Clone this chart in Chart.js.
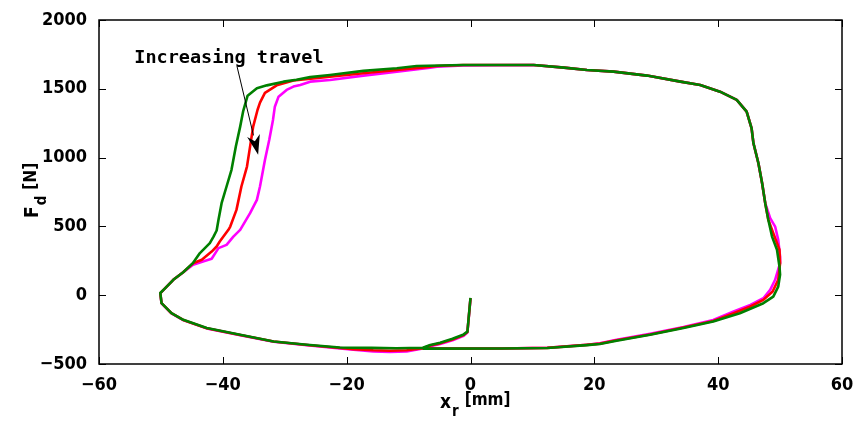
<!DOCTYPE html>
<html>
<head>
<meta charset="utf-8">
<script src="https://cdn.jsdelivr.net/npm/chart.js@4.4.0/dist/chart.umd.min.js"></script>
<style>
html,body{margin:0;padding:0;background:#fff;}
#wrap{width:864px;height:424px;position:relative;}
</style>
</head>
<body>
<div id="wrap"><canvas id="c" width="864" height="424"></canvas></div>
<script>
// ---- data (x_r in mm, F_d in N) ----
const greenX = [0,-0.5,-1.1,-2.9,-4.9,-6.5,-7.7,-12,-16,-21.1,-26.4,-31.8,-37.2,-42.6,-46.4,-48.3,-49.9,-50.1,-49.3,-48,-46.4,-44.8,-43.7,-42.1,-41.5,-41,-40.7,-40.2,-39.4,-38.6,-37.9,-37.2,-36.7,-36.0,-34.5,-32.9,-30.2,-28.1,-25.9,-22.7,-17.3,-11.9,-8.7,-1.2,10.2,15.1,18.8,23.1,28.5,33.9,37.1,40.3,43,44.6,45.4,45.7,46.5,47.1,47.6,48.1,48.7,49.5,49.9,50,49.7,48.9,47.3,43.5,39.2,34.4,29,23.6,20.9,18.8,12.4,5,-7.7];
const greenY = [-20,-265,-285,-317,-346,-362,-382,-385,-383,-380,-360,-336,-288,-239,-179,-130,-57,16,52,112,167,235,306,378,426,470,548,669,790,911,1080,1225,1340,1450,1504,1525,1552,1566,1585,1600,1630,1649,1666,1673,1673,1654,1637,1625,1596,1552,1528,1479,1419,1334,1213,1104,959,814,669,548,426,330,209,150,62,-10,-58,-131,-191,-239,-288,-331,-355,-363,-384,-387,-388];

const redX = [0,-0.5,-1.1,-2.9,-4.9,-6.5,-7.7,-10.3,-13,-15.7,-18.9,-21.1,-26.4,-31.8,-37.2,-42.6,-46.4,-48.3,-49.9,-50.1,-49.3,-48,-46.4,-44.8,-43.4,-41.8,-41,-40.5,-39.1,-38.8,-37.8,-37,-36.1,-35.6,-35.1,-34.4,-34,-33.2,-31.3,-28.6,-25.4,-17.3,-11.9,-7.6,-5.4,-1.2,10.2,15.1,18.8,23.1,28.5,33.9,37.1,40.3,43,44.6,45.4,45.7,46.5,47.1,47.6,48.1,48.9,49.9,50,49.7,48.8,47.3,45.2,42.5,39.2,34.4,29,23.6,20.9,18.8,12.4,5,-7.7];
const redY = [-22,-268,-290,-322,-350,-366,-385,-400,-404,-400,-392,-384,-362,-337,-289,-240,-180,-131,-58,15,52,112,167,232,258,317,354,390,475,499,620,790,935,1080,1225,1346,1400,1470,1525,1560,1575,1613,1637,1656,1666,1673,1673,1654,1637,1625,1596,1552,1528,1479,1419,1334,1213,1104,959,814,669,548,451,330,233,112,27,-34,-82,-131,-187,-235,-285,-328,-352,-361,-383,-387,-388];

const magentaX = [0,-0.5,-1.1,-2.9,-4.9,-6.5,-7.7,-10.3,-13,-15.7,-18.9,-21.1,-26.4,-31.8,-37.2,-42.6,-46.4,-48.3,-49.9,-50.1,-49.3,-48,-46.4,-44.8,-43.2,-41.8,-40.7,-39.4,-38.3,-37.2,-35.6,-34.5,-34,-33.2,-32.5,-31.9,-31.6,-31,-29.7,-28.6,-27.5,-25.9,-22.7,-17.3,-11.9,-6.5,-5.4,-1.2,10.2,15.1,18.8,23.1,28.5,33.9,37.1,40.3,43,44.6,45.4,45.7,46.5,47.1,47.6,48.4,49.2,49.7,50,50,49.2,48.4,47.3,45.2,42.5,39.2,34.4,29,23.6,20.9,18.8,12.4,5,-7.7];
const magentaY = [-25,-272,-295,-328,-355,-370,-388,-409,-413,-409,-397,-387,-363,-338,-290,-241,-181,-132,-59,14,52,112,167,222,245,265,342,366,426,475,596,693,790,983,1129,1274,1370,1443,1492,1516,1528,1552,1564,1596,1625,1654,1661,1670,1673,1654,1637,1625,1596,1552,1528,1479,1419,1334,1213,1104,959,814,669,560,499,402,281,233,112,39,-22,-70,-119,-180,-232,-280,-324,-350,-360,-382,-387,-388];

const xTicks = [-60,-40,-20,0,20,40,60];
const yTicks = [-500,0,500,1000,1500,2000];
const annotationText = 'Increasing travel';
const annotationTextPos = [-54.3, 1720];
const arrowFrom = [-37.7, 1661];
const arrowTo = [-34.3, 1020];

function pts(xs, ys){ return xs.map((x,i)=>({x:x, y:ys[i]})); }

const TICKFONT = {family:'"DejaVu Sans Condensed", "DejaVu Sans", sans-serif', size:18, weight:'bold'};

const framePlugin = {
  id:'frame',
  afterDraw(chart){
    const ctx = chart.ctx, a = chart.chartArea;
    const xs = chart.scales.x, ys = chart.scales.y;
    ctx.save();
    ctx.strokeStyle = '#000';
    ctx.lineWidth = 1.5;
    ctx.strokeRect(a.left, a.top, a.right-a.left, a.bottom-a.top);
    ctx.lineWidth = 1;
    const L = 7;
    ctx.beginPath();
    xTicks.forEach(v=>{
      const p = Math.round(xs.getPixelForValue(v))+0.5;
      ctx.moveTo(p, a.bottom); ctx.lineTo(p, a.bottom-L);
      ctx.moveTo(p, a.top); ctx.lineTo(p, a.top+L);
    });
    yTicks.forEach(v=>{
      const p = Math.round(ys.getPixelForValue(v))+0.5;
      ctx.moveTo(a.left, p); ctx.lineTo(a.left+L, p);
      ctx.moveTo(a.right, p); ctx.lineTo(a.right-L, p);
    });
    ctx.stroke();

    // annotation
    const fx = xs.getPixelForValue(arrowFrom[0]), fy = ys.getPixelForValue(arrowFrom[1]);
    const tx = xs.getPixelForValue(arrowTo[0]), ty = ys.getPixelForValue(arrowTo[1]);
    const ang = Math.atan2(ty-fy, tx-fx);
    const hl = 20, hw = 6.5;
    const bx = tx - hl*Math.cos(ang), by = ty - hl*Math.sin(ang);
    ctx.beginPath();
    ctx.moveTo(fx, fy); ctx.lineTo(bx, by);
    ctx.lineWidth = 1; ctx.stroke();
    ctx.beginPath();
    ctx.moveTo(tx, ty);
    ctx.lineTo(bx + hw*Math.sin(ang), by - hw*Math.cos(ang));
    ctx.lineTo(tx - 14*Math.cos(ang), ty - 14*Math.sin(ang));
    ctx.lineTo(bx - hw*Math.sin(ang), by + hw*Math.cos(ang));
    ctx.closePath();
    ctx.fillStyle = '#000'; ctx.fill();

    ctx.font = 'bold 18.5px "DejaVu Sans Mono", monospace';
    ctx.textBaseline = 'middle'; ctx.textAlign = 'left';
    ctx.fillText(annotationText, xs.getPixelForValue(annotationTextPos[0]), ys.getPixelForValue(annotationTextPos[1]));

    // x title
    ctx.textBaseline = 'alphabetic';
    ctx.font = 'bold 19px "DejaVu Sans Condensed", sans-serif';
    let x0 = 440;
    ctx.fillText('x', x0, 408);
    let w = ctx.measureText('x').width;
    ctx.font = 'bold 15px "DejaVu Sans Condensed", sans-serif';
    ctx.fillText('r', x0 + w + 1, 416);
    let w2 = ctx.measureText('r').width;
    ctx.font = 'bold 17px "DejaVu Sans Condensed", sans-serif';
    ctx.fillText('[mm]', x0 + w + w2 + 7, 405);

    // y title
    ctx.translate(38, 218);
    ctx.rotate(-Math.PI/2);
    ctx.font = 'bold 19px "DejaVu Sans Condensed", sans-serif';
    x0 = 0;
    ctx.fillText('F', x0, 0);
    w = ctx.measureText('F').width;
    ctx.font = 'bold 15px "DejaVu Sans Condensed", sans-serif';
    ctx.fillText('d', x0 + w + 1, 8);
    w2 = ctx.measureText('d').width;
    ctx.font = 'bold 17px "DejaVu Sans Condensed", sans-serif';
    ctx.fillText('[N]', x0 + w + w2 + 7, -2);
    ctx.restore();
  }
};

new Chart(document.getElementById('c'), {
  type:'scatter',
  data:{
    datasets:[
      {label:'green', data:pts(greenX, greenY), borderColor:'#008000', order:0},
      {label:'red', data:pts(redX, redY), borderColor:'#ff0000', order:1},
      {label:'magenta', data:pts(magentaX, magentaY), borderColor:'#ff00ff', order:2}
    ].map(d=>Object.assign(d,{showLine:true, pointRadius:0, borderWidth:2.6, tension:0, fill:false, borderJoinStyle:'round'}))
  },
  options:{
    responsive:false, animation:false, devicePixelRatio:1,
    layout:{padding:{left:0, top:20, right:22, bottom:0}},
    plugins:{legend:{display:false}, tooltip:{enabled:false}},
    scales:{
      x:{type:'linear', min:-60, max:60,
        afterBuildTicks(s){ s.ticks = xTicks.map(v=>({value:v})); },
        afterFit(s){ s.height = 60; },
        grid:{display:false}, border:{display:false},
        ticks:{color:'#000', font:TICKFONT, padding:3, maxRotation:0, callback:v=>String(v).replace('-','\u2212')}
      },
      y:{type:'linear', min:-500, max:2000,
        afterBuildTicks(s){ s.ticks = yTicks.map(v=>({value:v})); },
        afterFit(s){ s.width = 99; },
        grid:{display:false}, border:{display:false},
        ticks:{color:'#000', font:TICKFONT, padding:4, callback:v=>String(v).replace('-','\u2212')}
      }
    }
  },
  plugins:[framePlugin]
});
</script>
</body>
</html>
